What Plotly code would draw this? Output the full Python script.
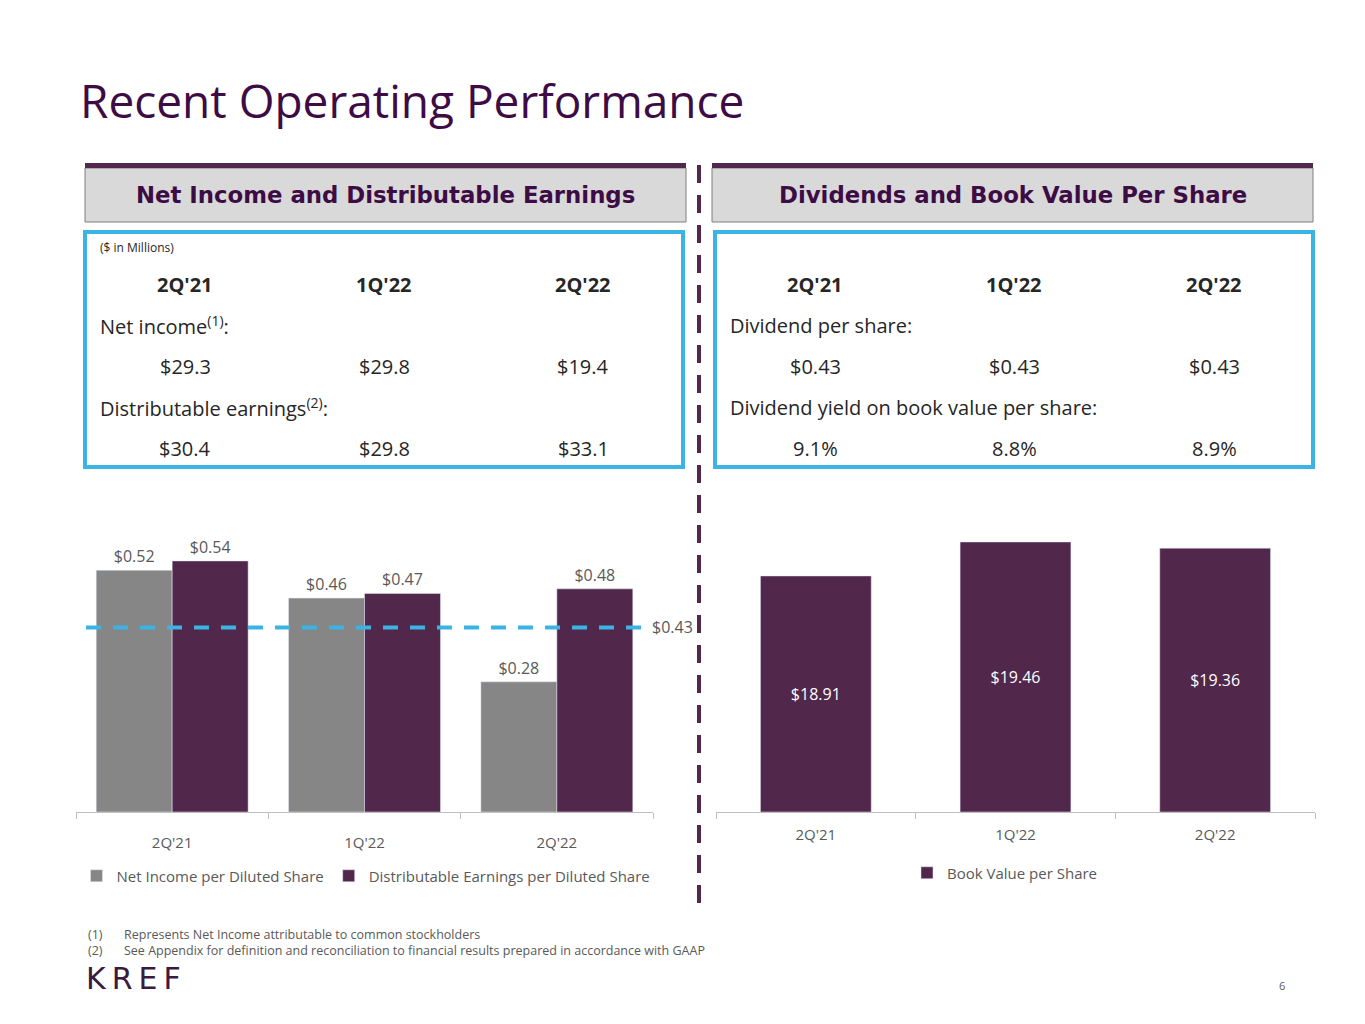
import plotly.graph_objects as go

# data
quarters = ["2Q'21", "1Q'22", "2Q'22"]
net_income = [29.3, 29.8, 19.4]
dist_earnings = [30.4, 29.8, 33.1]
ni_per_share = [0.52, 0.46, 0.28]
de_per_share = [0.54, 0.47, 0.48]
dividend_per_share = [0.43, 0.43, 0.43]
dividend_yield = [9.1, 8.8, 8.9]
book_value = [18.91, 19.46, 19.36]
dividend_line_level = 0.397  # where the dashed line sits on the slide
bv_axis_min = 15.092         # book value axis does not start at zero

W, H = 1365, 1024
OFF = 8  # page body margin
PURPLE = "#52274C"
GREY = "#868686"
CYAN = "#3BB4E4"
TITLE_C = "#3D0C45"
TEXT_C = "#262626"
LABEL_C = "#595959"
BODY_FONT = "Open Sans"


def px(x):
    return (x - OFF) / W


def py(y):
    return 1 - (y - OFF) / H


fig = go.Figure()

fig.add_trace(go.Bar(
    x=quarters, y=ni_per_share, name="Net Income per Diluted Share",
    marker_color=GREY, text=[f"${v:.2f}" for v in ni_per_share],
    textposition="outside", textfont=dict(color=LABEL_C, size=16),
    cliponaxis=False, xaxis="x", yaxis="y", legend="legend"))
fig.add_trace(go.Bar(
    x=quarters, y=de_per_share, name="Distributable Earnings per Diluted Share",
    marker_color=PURPLE, text=[f"${v:.2f}" for v in de_per_share],
    textposition="outside", textfont=dict(color=LABEL_C, size=16),
    cliponaxis=False, xaxis="x", yaxis="y", legend="legend"))
fig.add_trace(go.Bar(
    x=quarters, y=[v - bv_axis_min for v in book_value], base=bv_axis_min,
    name="Book Value per Share",
    marker_color=PURPLE, text=[f"${v:.2f}" for v in book_value],
    textposition="inside", insidetextanchor="middle",
    textfont=dict(color="white", size=16),
    width=0.555, xaxis="x2", yaxis="y2", legend="legend2"))

axis_common = dict(
    type="category", showline=True, linecolor="#BFBFBF", linewidth=1,
    ticks="outside", tickson="boundaries", ticklen=6, tickcolor="#BFBFBF",
    tickfont=dict(size=15, color=LABEL_C),
    showgrid=False, zeroline=False, fixedrange=True)

y_dom = [py(812), py(520)]

fig.update_layout(
    width=W, height=H,
    margin=dict(l=0, r=0, t=0, b=0),
    paper_bgcolor="white", plot_bgcolor="white",
    font=dict(family=BODY_FONT, color=TEXT_C),
    barmode="group", bargap=0.21, bargroupgap=0,
    xaxis=dict(domain=[px(76), px(653)], ticklabelstandoff=17, **axis_common),
    yaxis=dict(domain=y_dom, range=[0, 0.628], visible=False, fixedrange=True),
    xaxis2=dict(domain=[px(716), px(1315)], anchor="y2", ticklabelstandoff=9,
                **axis_common),
    yaxis2=dict(domain=y_dom, range=[bv_axis_min, 19.815], visible=False,
                anchor="x2", fixedrange=True),
    legend=dict(orientation="h", x=px(366), xanchor="center", y=py(876),
                yanchor="middle", font=dict(size=15, color=LABEL_C),
                itemwidth=30, traceorder="normal"),
    legend2=dict(orientation="h", x=px(1005), xanchor="center", y=py(873),
                 yanchor="middle", font=dict(size=15, color=LABEL_C),
                 itemwidth=30),
)

shapes = []
# header bars
for x0, x1 in [(85, 686), (712, 1313)]:
    shapes.append(dict(type="rect", xref="paper", yref="paper",
                       x0=px(x0), x1=px(x1), y0=py(222), y1=py(168),
                       fillcolor="#D9D9D9", line=dict(color="#7F7F7F", width=1)))
    shapes.append(dict(type="rect", xref="paper", yref="paper",
                       x0=px(x0), x1=px(x1), y0=py(168), y1=py(163),
                       fillcolor=PURPLE, line=dict(width=0)))
# cyan table boxes
for x0, x1 in [(85, 683), (715, 1313)]:
    shapes.append(dict(type="rect", xref="paper", yref="paper",
                       x0=px(x0), x1=px(x1), y0=py(467), y1=py(232),
                       fillcolor="rgba(0,0,0,0)", line=dict(color=CYAN, width=4)))
# vertical dashed divider
shapes.append(dict(type="line", xref="paper", yref="paper",
                   x0=px(699), x1=px(699), y0=py(165), y1=py(910),
                   line=dict(color=PURPLE, width=4, dash="18px,12px")))
# dividend dashed line on left chart
shapes.append(dict(type="line", xref="paper", yref="y",
                   x0=px(86), x1=px(643),
                   y0=dividend_line_level, y1=dividend_line_level,
                   line=dict(color=CYAN, width=4, dash="15px,12px")))
fig.update_layout(shapes=shapes)

ann = []


def text(x, y, s, size, color=TEXT_C, anchor="left", family=BODY_FONT):
    ann.append(dict(x=px(x), y=py(y), xref="paper", yref="paper", text=s,
                    showarrow=False, xanchor=anchor, yanchor="middle",
                    font=dict(size=size, color=color, family=family)))


text(78, 100, "Recent Operating Performance", 46, TITLE_C)

text(385, 195, "<b>Net Income and Distributable Earnings</b>", 22.8, TITLE_C,
     "center", "DejaVu Sans")
text(1013, 195, "<b>Dividends and Book Value Per Share</b>", 22.8, TITLE_C,
     "center", "DejaVu Sans")

text(98, 247, "($ in Millions)", 12)

left_cols = [185, 384, 583]
right_cols = [815, 1014, 1214]
for i, q in enumerate(quarters):
    text(left_cols[i], 284, f"<b>{q}</b>", 20, anchor="center")
    text(right_cols[i], 284, f"<b>{q}</b>", 20, anchor="center")
    text(left_cols[i], 366, f"${net_income[i]:.1f}", 20, anchor="center")
    text(left_cols[i], 448, f"${dist_earnings[i]:.1f}", 20, anchor="center")
    text(right_cols[i], 366, f"${dividend_per_share[i]:.2f}", 20, anchor="center")
    text(right_cols[i], 448, f"{dividend_yield[i]:.1f}%", 20, anchor="center")

text(98, 325, "Net income<sup>(1)</sup>:", 20)
text(98, 407, "Distributable earnings<sup>(2)</sup>:", 20)
text(728, 325, "Dividend per share:", 20)
text(728, 407, "Dividend yield on book value per share:", 20)

# dividend line label
ann.append(dict(x=px(650), y=dividend_line_level, xref="paper", yref="y",
                text=f"${dividend_per_share[-1]:.2f}", showarrow=False,
                xanchor="left", yanchor="middle",
                font=dict(size=16, color=LABEL_C, family=BODY_FONT)))

# footnotes
text(86, 934, "(1)", 12.5, LABEL_C)
text(122, 934, "Represents Net Income attributable to common stockholders", 12.5, LABEL_C)
text(86, 950, "(2)", 12.5, LABEL_C)
text(122, 950, "See Appendix for definition and reconciliation to financial results "
     "prepared in accordance with GAAP", 12.5, LABEL_C)

text(84, 978, "K\u2009R\u2009E\u2009F", 30, "#3A1A3E", family="DejaVu Sans")
text(1282, 985, "6", 11, LABEL_C, "center")

fig.update_layout(annotations=ann)

fig.write_html("out.html")
